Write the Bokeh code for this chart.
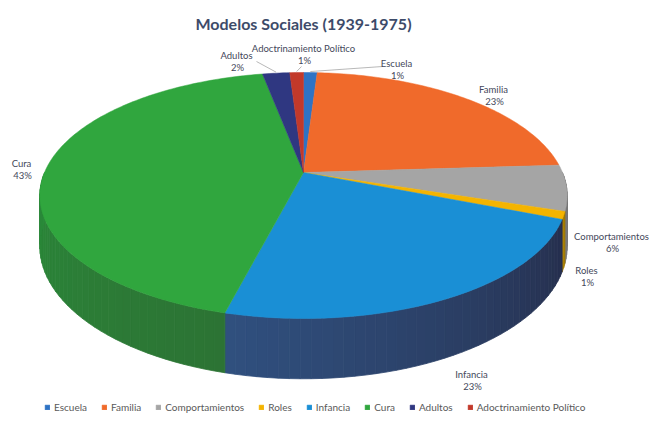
import math
from bokeh.plotting import figure
from bokeh.models import Range1d, Label, Legend, LegendItem
from bokeh.embed import file_html
from bokeh.resources import INLINE

# ---------------- data ----------------
categories = ["Escuela", "Familia", "Comportamientos", "Roles", "Infancia",
              "Cura", "Adultos", "Adoctrinamiento Político"]
values = [1, 23, 6, 1, 23, 43, 2, 1]
title_text = "Modelos Sociales (1939-1975)"

# ---------------- styles ----------------
top_colors = ["#2e73c4", "#f06a2b", "#a5a5a5", "#f4b400", "#1a8fd5",
              "#30a63e", "#2f3781", "#c2392a"]
side_light = ["#2a5a98", "#b8521f", "#7a7a7a", "#b08300", "#30507f",
              "#2b8a3a", "#262d68", "#8d2a1c"]
side_dark = ["#1f4a80", "#9a4418", "#6a6a6a", "#9a7300", "#262f4d",
             "#2c7334", "#1e2455", "#7a2418"]

# label layout (page pixel coordinates of the name line; percent sits below)
label_pos = [(396, 63), (493, 89), (611, 236), (586, 270), (471, 374),
             (21, 163), (236, 55), (303, 48)]
leader_end = [(382, 66), None, None, None, None, None, (256, 61), (301, 66)]

# ---------------- geometry ----------------
W, H = 649, 426
CX, CY = 303.0, 172.0
RX, RY = 259.0, 118.7
PERSP = 0.187
DEPTH = 49.0


def proj(theta_deg):
    t = math.radians(theta_deg)
    s = 1.0 / (1.0 + PERSP * math.cos(t))
    return CX + RX * math.sin(t) * s, CY - RY * math.cos(t) * s, s


def arc(a, b, n=None):
    if n is None:
        n = max(2, int(abs(b - a) / 1.0) + 2)
    return [a + (b - a) * i / (n - 1) for i in range(n)]


def hex2rgb(h):
    return tuple(int(h[i:i + 2], 16) for i in (1, 3, 5))


def lerp(c1, c2, f):
    a, b = hex2rgb(c1), hex2rgb(c2)
    return "#%02x%02x%02x" % tuple(int(round(a[i] + (b[i] - a[i]) * f)) for i in range(3))


total = float(sum(values))
bounds = []
acc = 0.0
for v in values:
    a = acc / total * 360.0
    acc += v
    bounds.append((a, acc / total * 360.0))

p = figure(width=W, height=H, x_range=Range1d(0, W), y_range=Range1d(H, 0),
           output_backend="svg", toolbar_location=None, min_border=0,
           x_axis_type=None, y_axis_type=None)
p.outline_line_color = None
p.background_fill_color = "white"

# ---- side walls (front part), drawn as gradient strips ----
sx, sy, sc = [], [], []
for i, (a, b) in enumerate(bounds):
    lo, hi = max(a, 90.0), min(b, 270.0)
    if hi <= lo:
        continue
    steps = arc(lo, hi, max(2, int((hi - lo) / 2.0) + 2))
    for j in range(len(steps) - 1):
        t0, t1 = steps[j], steps[j + 1]
        x0, y0, s0 = proj(t0)
        x1, y1, s1 = proj(t1)
        sx.append([x0, x1, x1, x0])
        sy.append([y0, y1, y1 + DEPTH * s1, y0 + DEPTH * s0])
        f = (0.5 * (t0 + t1) - lo) / max(hi - lo, 1e-6)
        sc.append(lerp(side_dark[i], side_light[i], f))
p.patches(xs=sx, ys=sy, fill_color=sc, line_color=sc, line_width=0.8)

# ---- top face ----
renderers = []
for i, (a, b) in enumerate(bounds):
    xs, ys = [CX], [CY]
    for t in arc(a, b):
        x, y, _ = proj(t)
        xs.append(x)
        ys.append(y)
    r = p.patch(xs, ys, fill_color=top_colors[i], line_color=top_colors[i], line_width=0.5)
    renderers.append(r)

# ---- leader lines ----
for i, end in enumerate(leader_end):
    if end is None:
        continue
    a, b = bounds[i]
    mx, my, _ = proj(0.5 * (a + b))
    p.line([mx, end[0]], [my - 1, end[1]], line_color="#a6a6a6", line_width=0.8)

# ---- data labels ----
for i, (name, v) in enumerate(zip(categories, values)):
    x, y = label_pos[i]
    p.add_layout(Label(x=x, y=y, text=name, text_align="center", text_baseline="middle",
                       text_font="Lato", text_font_size="9.5px", text_color="#44475a"))
    p.add_layout(Label(x=x + 1, y=y + 12, text=f"{v}%", text_align="center",
                       text_baseline="middle", text_font="Lato", text_font_size="9.5px",
                       text_color="#44475a"))

# ---- title ----
p.add_layout(Label(x=303, y=23, text=title_text, text_align="center", text_baseline="middle",
                   text_font="Lato", text_font_style="bold", text_font_size="16px",
                   text_color="#3d4b69"))

# ---- legend ----
legend = Legend(items=[LegendItem(label=c, renderers=[r]) for c, r in zip(categories, renderers)],
                orientation="horizontal", location=(44, 13), glyph_width=6, glyph_height=6,
                label_text_font="Lato", label_text_font_size="10px", label_text_color="#595959",
                label_standoff=4, spacing=14, padding=0, margin=0, label_height=10,
                border_line_color=None, background_fill_alpha=0)
p.add_layout(legend)

open("out.html", "w").write(file_html(p, INLINE))
